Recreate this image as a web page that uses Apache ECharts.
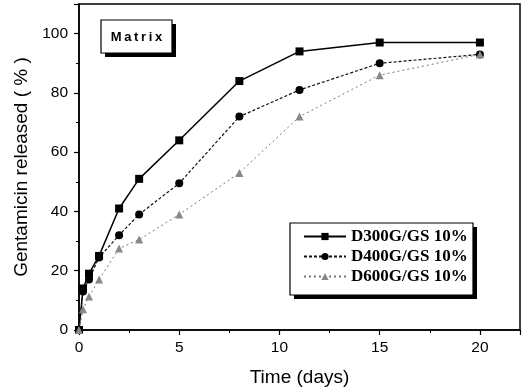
<!DOCTYPE html>
<html>
<head>
<meta charset="utf-8">
<script src="https://cdn.jsdelivr.net/npm/echarts@6/dist/echarts.min.js"></script>
<style>
  html, body { margin: 0; padding: 0; background: #fff; }
  #main { width: 522px; height: 390px; }
</style>
</head>
<body>
<div id="main"></div>
<script>
// release data
var days = [0, 0.2, 0.5, 1, 2, 3, 5, 8, 11, 15, 20];
var d300 = [0, 14, 19, 25, 41, 51, 64, 84, 94, 97, 97];
var d400 = [0, 13, 17, 24.5, 32, 39, 49.5, 72, 81, 90, 93];
var d600 = [0, 7, 11.3, 17, 27.5, 30.5, 39, 53, 72, 86, 93];
var names = ['D300G/GS 10%', 'D400G/GS 10%', 'D600G/GS 10%'];

function pairs(ys) {
  return days.map(function (d, i) { return [d, ys[i]]; });
}

var myChart = echarts.init(document.getElementById('main'));
var sans = 'Liberation Sans';

var option = {
  backgroundColor: '#fff',
  animation: false,
  // "Matrix" tag and the legend frame, both with a hard black drop shadow
  graphic: [
    { type: 'rect', z: 5, shape: { x: 105, y: 24, width: 71, height: 33 }, style: { fill: '#000' } },
    { type: 'rect', z: 5, shape: { x: 101, y: 20, width: 71, height: 33 }, style: { fill: '#fff', stroke: '#000', lineWidth: 1.2 } },
    { type: 'text', z: 6, x: 136.5, y: 37, style: { text: 'M\u2009a\u2009t\u2009r\u2009i\u2009x', fill: '#000', font: 'bold 13px "Liberation Sans"', align: 'center', verticalAlign: 'middle' } },
    { type: 'rect', z: 5, shape: { x: 294, y: 227, width: 183, height: 72 }, style: { fill: '#000' } },
    { type: 'rect', z: 5, shape: { x: 290, y: 223, width: 183, height: 72 }, style: { fill: '#fff', stroke: '#000', lineWidth: 1.2 } }
  ],
  legend: {
    data: names,
    orient: 'vertical',
    left: 290,
    top: 223,
    z: 7,
    padding: [5, 8, 5, 13],
    itemGap: 3,
    itemWidth: 42,
    itemHeight: 9,
    textStyle: { fontFamily: 'Liberation Serif', fontWeight: 'bold', fontSize: 17, color: '#000' }
  },
  grid: {
    left: 79, right: 2, top: 4, bottom: 60,
    outerBoundsMode: 'none',
    show: true, borderColor: '#000', borderWidth: 1.5
  },
  xAxis: {
    type: 'value',
    min: 0, max: 22, interval: 5,
    name: 'Time (days)',
    nameLocation: 'middle',
    nameGap: 38,
    nameTextStyle: { fontFamily: sans, fontSize: 19, color: '#000' },
    axisLine: { lineStyle: { color: '#000', width: 1.5 } },
    axisTick: { inside: false, length: 5, lineStyle: { color: '#000', width: 1.2 } },
    minorTick: { show: true, splitNumber: 2, length: 3, lineStyle: { color: '#000' } },
    axisLabel: { fontFamily: sans, fontSize: 15.5, color: '#000', margin: 10, showMaxLabel: false },
    splitLine: { show: false }
  },
  yAxis: {
    type: 'value',
    min: 0, max: 110, interval: 20,
    name: 'Gentamicin released ( % )',
    nameLocation: 'middle',
    nameGap: 45,
    nameTextStyle: { fontFamily: sans, fontSize: 19, color: '#000' },
    axisLine: { show: true, lineStyle: { color: '#000', width: 1.5 } },
    axisTick: { show: true, inside: false, length: 5, lineStyle: { color: '#000', width: 1.2 } },
    minorTick: { show: true, splitNumber: 2, length: 3, lineStyle: { color: '#000' } },
    axisLabel: { fontFamily: sans, fontSize: 15.5, color: '#000', margin: 11, showMaxLabel: false },
    splitLine: { show: false }
  },
  series: [{
    name: names[0],
    type: 'line',
    data: pairs(d300),
    symbol: 'rect',
    symbolSize: 8,
    itemStyle: { color: '#000' },
    lineStyle: { color: '#000', width: 1.5 }
  }, {
    name: names[1],
    type: 'line',
    data: pairs(d400),
    symbol: 'circle',
    symbolSize: 8,
    itemStyle: { color: '#000' },
    lineStyle: { color: '#111', width: 1.2, type: [3, 2] }
  }, {
    name: names[2],
    type: 'line',
    data: pairs(d600),
    symbol: 'triangle',
    symbolSize: 8,
    itemStyle: { color: '#888' },
    lineStyle: { color: '#777', width: 1, type: [2, 3] }
  }]
};

myChart.setOption(option);
</script>
</body>
</html>
